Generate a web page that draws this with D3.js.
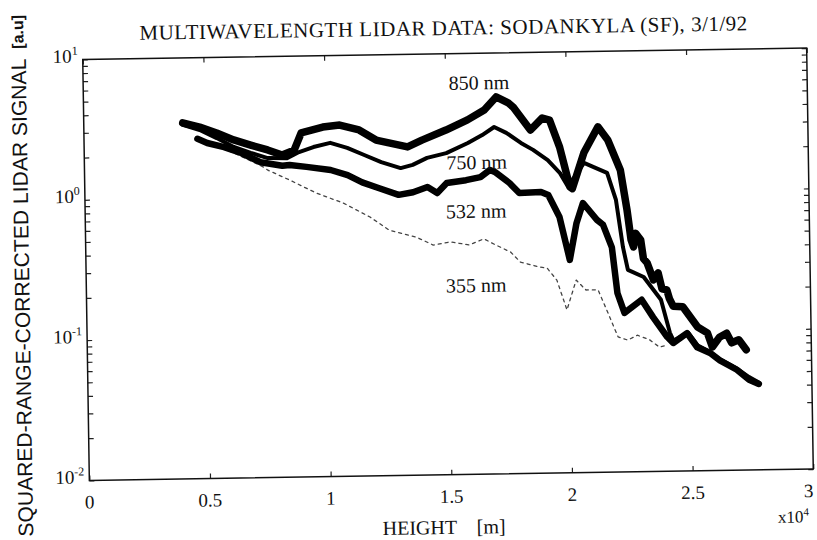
<!DOCTYPE html>
<html>
<head>
<meta charset="utf-8">
<script src="https://cdn.jsdelivr.net/npm/d3@7"></script>
<style>
  body { margin: 0; background: #fff; }
  text { fill: #111; }
</style>
</head>
<body>
<div id="wrapper"></div>
<script>
// heights in units of 1e4 m, signal in a.u.
const h850 = [0.41,0.48,0.55,0.62,0.69,0.76,0.82,0.87,0.9,0.99,1.06,1.14,1.21,1.34,1.4,1.5,1.59,1.66,1.71,1.76,1.78,1.85,1.9,1.93,1.97,2.01,2.02,2.07,2.13,2.17,2.22,2.245,2.26,2.27,2.28,2.3,2.31,2.325,2.35,2.37,2.385,2.405,2.415,2.43,2.47,2.53,2.57,2.59,2.62,2.65,2.67,2.7,2.73]
const v850 = [3.44,3.2,2.89,2.57,2.35,2.16,1.98,2.14,2.83,3.1,3.19,2.93,2.47,2.19,2.44,2.86,3.36,3.94,4.86,4.39,4.1,2.8,3.4,3.28,2.1,1.09,1.06,1.9,2.9,2.33,1.42,0.74,0.45,0.4,0.5,0.448,0.33,0.307,0.232,0.26,0.2,0.196,0.17,0.15,0.148,0.106,0.096,0.076,0.089,0.095,0.081,0.085,0.072]

const h750 = [0.41,0.48,0.55,0.62,0.69,0.76,0.84,0.89,0.95,1.02,1.09,1.16,1.23,1.31,1.36,1.42,1.5,1.59,1.65,1.7,1.75,1.81,1.86,1.92,1.97,2.0,2.03,2.07,2.11,2.165,2.2,2.226,2.245,2.31,2.38,2.415,2.43,2.49,2.53,2.58,2.62,2.69,2.74,2.78]
const v750 = [3.33,3.05,2.66,2.29,2.07,1.89,1.88,2.07,2.24,2.39,2.19,1.94,1.72,1.55,1.63,1.82,1.96,2.3,2.61,2.97,2.69,2.27,2.02,1.7,1.37,1.11,1.28,1.61,1.5,1.36,0.87,0.4,0.275,0.244,0.167,0.097,0.085,0.097,0.078,0.07,0.062,0.053,0.046,0.042]

const h532 = [0.47,0.51,0.58,0.65,0.73,0.82,0.85,0.92,1.02,1.09,1.15,1.22,1.3,1.36,1.42,1.46,1.5,1.58,1.64,1.68,1.7,1.76,1.8,1.89,1.92,1.965,2.005,2.035,2.063,2.12,2.145,2.18,2.2,2.228,2.3,2.346,2.403,2.428,2.486,2.527,2.58,2.62,2.69,2.74,2.78]
const v532 = [2.64,2.46,2.29,2.07,1.77,1.66,1.68,1.62,1.53,1.4,1.24,1.12,1.0,1.04,1.13,1.02,1.2,1.25,1.31,1.47,1.42,1.18,1.0,1.01,0.96,0.667,0.329,0.6,0.834,0.63,0.58,0.4,0.189,0.136,0.168,0.126,0.091,0.082,0.096,0.076,0.069,0.061,0.052,0.044,0.041]

const h355 = [0.6,0.68,0.74,0.76,0.85,0.96,1.07,1.18,1.26,1.37,1.44,1.51,1.59,1.65,1.7,1.76,1.8,1.88,1.91,1.95,1.99,2.03,2.07,2.12,2.16,2.2,2.24,2.28,2.33,2.37,2.4]
const v355 = [2.15,1.85,1.64,1.55,1.31,1.05,0.887,0.7,0.56,0.498,0.435,0.456,0.432,0.475,0.428,0.38,0.322,0.295,0.29,0.237,0.145,0.236,0.2,0.2,0.136,0.092,0.087,0.094,0.087,0.077,0.079]

const xTicks = [0, 0.5, 1, 1.5, 2, 2.5, 3]
const xTickLabels = ["0", "0.5", "1", "1.5", "2", "2.5", "3"]
const yDecades = [1e-2, 1e-1, 1e0, 1e1]
const yDecadeExp = ["-2", "-1", "0", "1"]

const labelNames = ["850 nm", "750 nm", "532 nm", "355 nm"]
const labelH = [1.64, 1.625, 1.62, 1.615]
const labelV = [6.2, 1.68, 0.753, 0.223]

const width = 817
const height = 540
const margin = { top: 53.75, right: 7, bottom: 65.25, left: 86 }
const boundedWidth = width - margin.left - margin.right
const boundedHeight = height - margin.top - margin.bottom

const svg = d3.select("#wrapper")
  .append("svg")
  .attr("width", width)
  .attr("height", height)

// the scan is tilted by about a degree
const page = svg.append("g")
  .attr("transform", "rotate(-0.9, 448, 264)")

const bounds = page.append("g")
  .attr("transform", `translate(${margin.left}, ${margin.top})`)

const xScale = d3.scaleLinear()
  .domain([0, 3])
  .range([0, boundedWidth])

const yScale = d3.scaleLog()
  .domain([0.01, 10])
  .range([boundedHeight, 0])

const serif = "'Liberation Serif', 'DejaVu Serif', serif"
const sans = "'Liberation Sans', Arial, sans-serif"

// minor ticks on log axis
const yTickVals = []
yDecades.forEach((d, i) => {
  if (i < yDecades.length - 1) {
    for (let k = 1; k < 10; k++) yTickVals.push(d * k)
  }
})
yTickVals.push(10)

// axes, ticks pointing inward
const styleAxis = g => {
  g.select(".domain").remove()
  g.selectAll(".tick line").attr("stroke", "#222").attr("stroke-width", 1.2)
  g.selectAll(".tick text").remove()
}

bounds.append("g")
  .attr("transform", `translate(0, ${boundedHeight})`)
  .call(d3.axisBottom(xScale).tickValues(xTicks).tickSize(-5))
  .call(styleAxis)

bounds.append("g")
  .call(d3.axisTop(xScale).tickValues(xTicks).tickSize(-5))
  .call(styleAxis)

bounds.append("g")
  .call(d3.axisLeft(yScale).tickValues(yTickVals).tickSize(-5))
  .call(styleAxis)

bounds.append("g")
  .attr("transform", `translate(${boundedWidth}, 0)`)
  .call(d3.axisRight(yScale).tickValues(yTickVals).tickSize(-5))
  .call(styleAxis)

bounds.append("rect")
  .attr("width", boundedWidth)
  .attr("height", boundedHeight)
  .attr("fill", "none")
  .attr("stroke", "#111")
  .attr("stroke-width", 1.5)

// tick labels (last one nudged in, as in the scan)
bounds.append("g")
  .selectAll("text")
  .data(xTicks)
  .join("text")
    .attr("x", d => xScale(d))
    .attr("y", boundedHeight + 28)
    .attr("dx", d => d === 3 ? -5 : 0)
    .attr("text-anchor", "middle")
    .style("font-family", serif)
    .style("font-size", "19px")
    .text((d, i) => xTickLabels[i])

const yLab = bounds.append("g")
  .selectAll("text")
  .data(yDecades)
  .join("text")
    .attr("x", -5)
    .attr("y", d => yScale(d) + 3)
    .attr("text-anchor", "end")
    .style("font-family", serif)
    .style("font-size", "19px")
yLab.append("tspan").text("10")
yLab.append("tspan")
  .attr("dy", -8)
  .style("font-size", "12px")
  .text((d, i) => yDecadeExp[i])

// data lines
const line = d3.line()
  .x(d => xScale(d[0]))
  .y(d => yScale(d[1]))
  .curve(d3.curveLinear)

const series = [
  { h: h355, v: v355, w: 1.3, dash: "3,4", color: "#444" },
  { h: h750, v: v750, w: 4, dash: null, color: "#000" },
  { h: h532, v: v532, w: 6.5, dash: null, color: "#000" },
  { h: h850, v: v850, w: 7.5, dash: null, color: "#000" },
]

series.forEach(s => {
  bounds.append("path")
    .datum(s.h.map((h, i) => [h, s.v[i]]))
    .attr("d", line)
    .attr("fill", "none")
    .attr("stroke", s.color)
    .attr("stroke-width", s.w)
    .attr("stroke-linejoin", "round")
    .attr("stroke-linecap", "round")
    .attr("stroke-dasharray", s.dash)
})

// curve labels
bounds.append("g")
  .selectAll("text")
  .data(labelNames)
  .join("text")
    .attr("x", (d, i) => xScale(labelH[i]))
    .attr("y", (d, i) => yScale(labelV[i]))
    .attr("dy", "0.35em")
    .attr("text-anchor", "middle")
    .style("font-family", serif)
    .style("font-size", "20px")
    .text(d => d)

// title and axis labels
page.append("text")
  .attr("x", 447)
  .attr("y", 35)
  .attr("text-anchor", "middle")
  .attr("textLength", 608)
  .style("font-family", serif)
  .style("font-size", "21px")
  .text("MULTIWAVELENGTH LIDAR DATA: SODANKYLA (SF), 3/1/92")

page.append("text")
  .attr("x", 440)
  .attr("y", 534)
  .attr("text-anchor", "middle")
  .style("font-family", serif)
  .style("font-size", "20px")
  .attr("xml:space", "preserve")
  .text("HEIGHT    [m]")

const x104 = page.append("text")
  .attr("x", 774)
  .attr("y", 528)
  .style("font-family", serif)
  .style("font-size", "17px")
x104.append("tspan").text("x10")
x104.append("tspan").attr("dy", -7).style("font-size", "11px").text("4")

page.append("text")
  .attr("transform", "translate(29, 530) rotate(-90)")
  .attr("textLength", 478)
  .attr("lengthAdjust", "spacingAndGlyphs")
  .style("font-family", sans)
  .style("font-size", "21px")
  .text("SQUARED-RANGE-CORRECTED LIDAR SIGNAL")

page.append("text")
  .attr("transform", "translate(27, 42) rotate(-90)")
  .style("font-family", sans)
  .style("font-size", "16px")
  .style("font-weight", "bold")
  .text("[a.u]")
</script>
</body>
</html>
